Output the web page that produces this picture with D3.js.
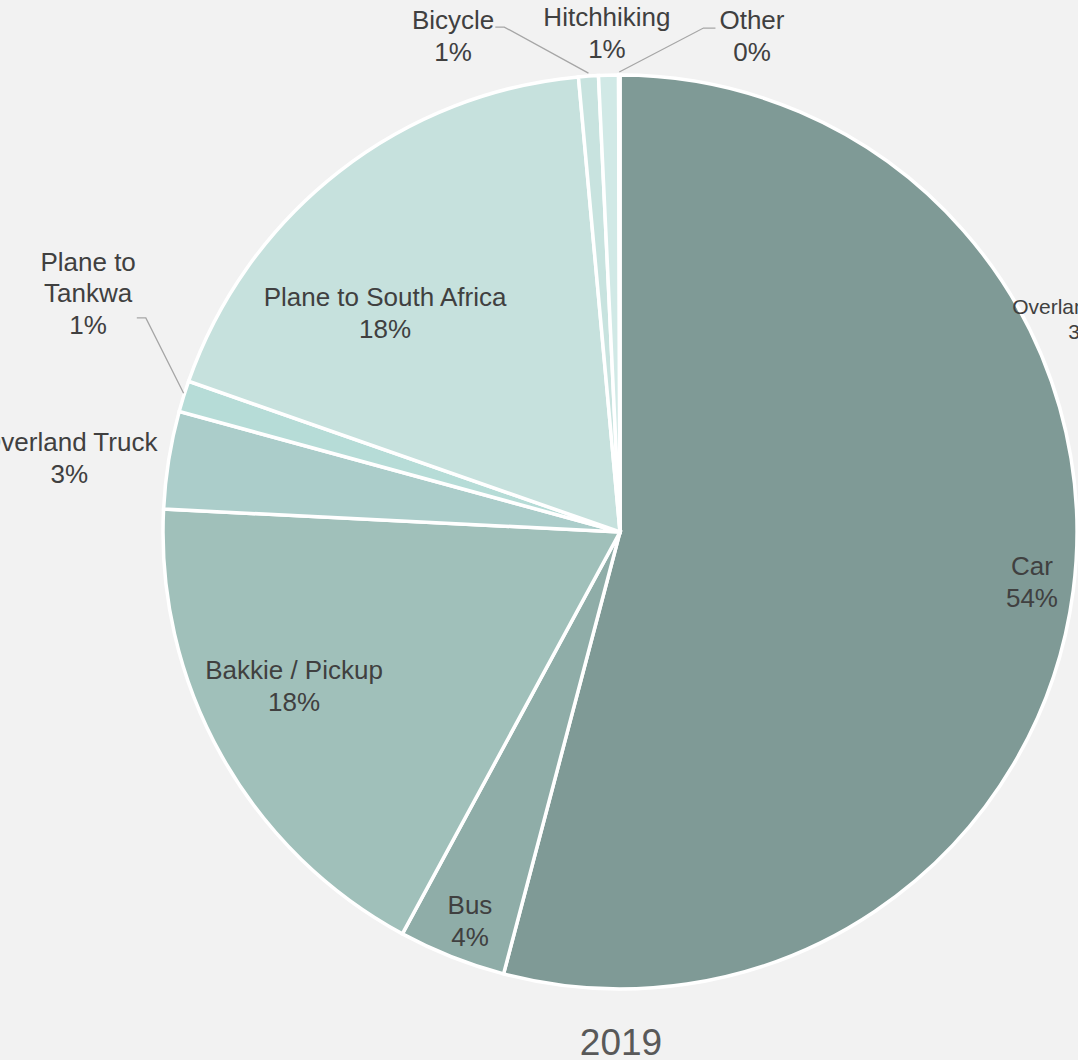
<!DOCTYPE html>
<html lang="en">
<head>
    <meta charset="UTF-8">
    <title>2019</title>
    <script src="https://cdnjs.cloudflare.com/ajax/libs/d3/7.8.5/d3.min.js"></script>
    <style>
        html, body {
            margin: 0;
            padding: 0;
            background: #f2f2f2;
        }
        svg {
            display: block;
            font-family: "Liberation Sans", Arial, sans-serif;
        }
        .slice {
            stroke: #fff;
            stroke-width: 3.5;
        }
        .label {
            fill: #404040;
            font-size: 26px;
        }
        .leader {
            fill: none;
            stroke: #a6a6a6;
            stroke-width: 1.3;
        }
    </style>
</head>
<body>
    <svg id="chart" width="1078" height="1060"></svg>

    <script>
        // data (share of respondents, %)
        const categories = ["Car", "Bus", "Bakkie / Pickup", "Overland Truck", "Plane to Tankwa",
                            "Plane to South Africa", "Bicycle", "Hitchhiking", "Other"];
        const shares = [54.1, 3.8, 17.9, 3.45, 1.1, 18.2, 0.7, 0.7, 0.05];
        const colors = ["#7f9a96", "#8fada8", "#a0c0ba", "#abcdca", "#b6dcd7",
                        "#c6e1dd", "#c8e3df", "#d1e9e6", "#d8eeeb"];
        const title = "2019";

        // label layout: radius factor, angle (deg clockwise from 12 o'clock), line breaks, leader
        const labelLayout = [
            { r: 0.908, a: 96.9,  lines: ["Car"] },
            { r: 0.912, a: 201.1, lines: ["Bus"] },
            { r: 0.789, a: 244.7, lines: ["Bakkie / Pickup"] },
            { r: 1.216, a: 277.65, lines: ["Overland Truck"] },
            { r: 1.276, a: 294.2, lines: ["Plane to", "Tankwa"], leader: "right", ly: 25 },
            { r: 0.703, a: 313.0, lines: ["Plane to South Africa"] },
            { r: 1.145, a: 341.4, lines: ["Bicycle"], leader: "right", ly: -9 },
            { r: 1.092, a: 358.5, lines: ["Hitchhiking"] },
            { r: 1.123, a: 14.9,  lines: ["Other"], leader: "left", ly: -8 }
        ];
        // stray copy of a label sitting at the right edge
        const strayLabel = { cat: "Overland Truck", r: 1.116, a: 65.3, size: 21 };

        const width = 1078, height = 1060;
        const cx = 620, cy = 532, radius = 457;
        const lineH = 31.5;

        const svg = d3.select("#chart");
        const g = svg.append("g").attr("transform", `translate(${cx},${cy})`);

        const data = categories.map((c, i) => ({ cat: c, value: shares[i], color: colors[i], layout: labelLayout[i] }));
        const total = d3.sum(shares);

        const pie = d3.pie().sort(null).value(d => d.value);
        const arc = d3.arc().innerRadius(0).outerRadius(radius);
        const arcs = pie(data);

        g.selectAll("path.slice")
            .data(arcs)
            .join("path")
            .attr("class", "slice")
            .attr("d", arc)
            .attr("fill", d => d.data.color);

        function polar(rf, deg) {
            const t = deg * Math.PI / 180;
            return [rf * radius * Math.sin(t), -rf * radius * Math.cos(t)];
        }

        function pctText(v) {
            return Math.round(v / total * 100) + "%";
        }

        function drawLabel(parent, lines, x, y, size) {
            const n = lines.length;
            const lh = lineH * size / 26;
            const t = parent.append("text")
                .attr("class", "label")
                .attr("text-anchor", "middle")
                .style("font-size", size + "px");
            lines.forEach((ln, k) => {
                t.append("tspan")
                    .attr("x", x)
                    .attr("y", y + (k - (n - 1) / 2) * lh + size * 0.35)
                    .text(ln);
            });
            return t;
        }

        const labels = g.append("g");
        arcs.forEach(d => {
            const L = d.data.layout;
            const [x, y] = polar(L.r, L.a);
            const lines = L.lines.concat([pctText(d.data.value)]);
            const t = drawLabel(labels, lines, x, y, 26);

            if (L.leader) {
                const bb = t.node().getBBox();
                const mid = (d.startAngle + d.endAngle) / 2 * 180 / Math.PI;
                const p = polar(1.0, mid);
                const ey = y + L.ly;
                const sx = L.leader === "right" ? bb.x + bb.width + 1 : bb.x - 4;
                const ex = L.leader === "right" ? sx + 9 : sx - 12;
                g.insert("path", ":first-child")
                    .attr("class", "leader")
                    .attr("d", d3.line()([[sx, ey], [ex, ey], [p[0], p[1] - 3]]));
            }
        });

        // the leader lines must be above the slices
        g.selectAll("path.leader").raise();
        labels.raise();

        {
            const sd = arcs.find(d => d.data.cat === strayLabel.cat);
            const [x, y] = polar(strayLabel.r, strayLabel.a);
            drawLabel(labels, sd.data.layout.lines.concat([pctText(sd.data.value)]), x, y, strayLabel.size);
        }

        svg.append("text")
            .attr("x", 621)
            .attr("y", 1055)
            .attr("text-anchor", "middle")
            .style("font-size", "37px")
            .style("fill", "#595959")
            .text(title);
    </script>
</body>
</html>
